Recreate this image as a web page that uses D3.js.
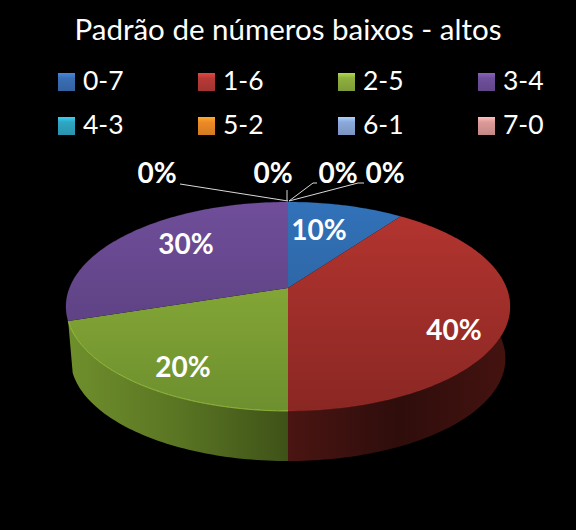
<!DOCTYPE html>
<html>
<head>
<meta charset="utf-8">
<script src="https://cdn.jsdelivr.net/npm/d3@7"></script>
<style>
html, body { margin: 0; padding: 0; background: #000; overflow: hidden; }
text { font-family: Lato, "Open Sans", sans-serif; fill: #fff; }
</style>
</head>
<body>
<div id="chart"></div>
<script>
var chartTitle = "Padrão de números baixos - altos";
var categories = ["0-7", "1-6", "2-5", "3-4", "4-3", "5-2", "6-1", "7-0"];
var percentages = [10, 40, 20, 30, 0, 0, 0, 0];
var legendColors = ["#3a6fb5", "#b83a36", "#8fb03e", "#6f4f9c", "#2fa7c4", "#ee8a26", "#8ba9db", "#dc9a98"];
var topLight = ["#3272b9", "#b53530", "#92b53c", "#704e9a", "#2fa7c4", "#ee8a26", "#8ba9db", "#dc9a98"];
var topDark = ["#27588f", "#8a2723", "#6d8f2e", "#523a75", "#2fa7c4", "#ee8a26", "#8ba9db", "#dc9a98"];
var sideStops = [
    ["#27588f", "#1c3f66", "#27588f"],
    ["#4a1512", "#2e0d0b", "#451310"],
    ["#6f8f2c", "#5a7523", "#3e5218"],
    ["#5b4080", "#4a3468", "#4a3468"],
    ["#2fa7c4", "#2fa7c4", "#2fa7c4"],
    ["#ee8a26", "#ee8a26", "#ee8a26"],
    ["#8ba9db", "#8ba9db", "#8ba9db"],
    ["#dc9a98", "#dc9a98", "#dc9a98"]
];

var width = 576, height = 530;
var cx = 288, cy = 288;
var persp = 0.177;
var topDisc = { a: 218.5, b: 101.2, cy: cy };
var baseDisc = { a: 214, b: 99.2, cy: 340.5 };

var svg = d3.select("#chart").append("svg")
    .attr("width", width)
    .attr("height", height)
    .style("display", "block");
var defs = svg.append("defs");

svg.append("rect").attr("width", width).attr("height", height).attr("fill", "#000");

// circle seen in perspective: angle 0 is the back of the pie, clockwise
function project(angle, disc) {
    var u = Math.sin(angle), v = -Math.cos(angle);
    var w = 1 - persp * v;
    return [cx + disc.a * u / w, disc.cy + disc.b * v / w];
}

function arcPoints(a0, a1, disc) {
    var n = Math.max(2, Math.ceil((a1 - a0) / 0.02));
    return d3.range(n + 1).map(function(i) {
        return project(a0 + (a1 - a0) * i / n, disc);
    });
}

var line = d3.line();
var slices = d3.pie().sort(null).value(function(d) { return d; })(percentages);
var drawn = slices.filter(function(s) { return s.value > 0; });

// only slices facing the viewer show a side wall
var facing = drawn.filter(function(s) {
    var mid = (s.startAngle + s.endAngle) / 2;
    return mid > Math.PI / 2 && mid < Math.PI * 1.5;
});

drawn.forEach(function(s) {
    var g = defs.append("linearGradient").attr("id", "top" + s.index)
        .attr("gradientUnits", "userSpaceOnUse")
        .attr("x1", 0).attr("x2", 0).attr("y1", 202).attr("y2", 411);
    g.append("stop").attr("offset", 0).attr("stop-color", topLight[s.index]);
    g.append("stop").attr("offset", 1).attr("stop-color", topDark[s.index]);

    var h = defs.append("linearGradient").attr("id", "side" + s.index)
        .attr("gradientUnits", "userSpaceOnUse")
        .attr("x1", s.index == 2 ? 68 : 288).attr("x2", s.index == 2 ? 288 : 510)
        .attr("y1", 0).attr("y2", 0);
    sideStops[s.index].forEach(function(c, i) {
        h.append("stop").attr("offset", i / 2).attr("stop-color", c);
    });
});

// sides first, the top surface paints over the hidden part
svg.append("g").selectAll("path")
    .data(facing)
    .enter()
    .append("path")
    .attr("d", function(s) {
        var front = arcPoints(s.startAngle, s.endAngle, topDisc);
        var back = arcPoints(s.startAngle, s.endAngle, baseDisc).reverse();
        return line(front.concat(back)) + "Z";
    })
    .attr("fill", function(s) { return "url(#side" + s.index + ")"; });

svg.append("g").selectAll("path")
    .data(drawn)
    .enter()
    .append("path")
    .attr("d", function(s) {
        return line([[cx, cy]].concat(arcPoints(s.startAngle, s.endAngle, topDisc))) + "Z";
    })
    .attr("fill", function(s) { return "url(#top" + s.index + ")"; });

// light bevel on the front rim
svg.append("g").selectAll("path")
    .data(drawn)
    .enter()
    .append("path")
    .attr("d", function(s) { return line(arcPoints(s.startAngle, s.endAngle, topDisc)); })
    .attr("fill", "none")
    .attr("stroke", function(s) { return d3.color(topLight[s.index]).brighter(0.7); })
    .attr("stroke-opacity", function(s) { return s.index == 2 ? 0.6 : 0.15; })
    .attr("stroke-width", 1);

// title
svg.append("text")
    .attr("x", 288)
    .attr("y", 40)
    .attr("text-anchor", "middle")
    .style("font-size", "29.5px")
    .text(chartTitle);

// legend
var legendX = d3.scalePoint().domain(d3.range(4)).range([58, 478]);
var legendY = d3.scalePoint().domain(d3.range(2)).range([73, 117]);

categories.forEach(function(name, i) {
    var id = "swatch" + i;
    var g = defs.append("linearGradient").attr("id", id)
        .attr("x1", 0).attr("x2", 0).attr("y1", 0).attr("y2", 1);
    var base = d3.color(legendColors[i]);
    g.append("stop").attr("offset", 0).attr("stop-color", base.brighter(0.6));
    g.append("stop").attr("offset", 0.28).attr("stop-color", base);
    g.append("stop").attr("offset", 1).attr("stop-color", base.darker(0.35));

    var item = svg.append("g")
        .attr("transform", "translate(" + legendX(i % 4) + "," + legendY(Math.floor(i / 4)) + ")");
    item.append("rect")
        .attr("width", 17)
        .attr("height", 18)
        .attr("fill", "url(#" + id + ")");
    item.append("text")
        .attr("x", 25)
        .attr("y", 17)
        .style("font-size", "26.5px")
        .text(name);
});

// value labels, placed by hand like the original chart
var labelPos = [[319, 240], [454, 340], [183, 377], [186, 254], [157, 183], [273, 183], [338, 183], [385, 183]];
var leaders = [
    null, null, null, null,
    [[180, 184], [288, 201]],
    [[287, 190], [287, 201]],
    [[317, 183], [313, 183], [289, 201]],
    [[364, 183], [358, 183], [289, 201]]
];

svg.append("g").selectAll("path")
    .data(leaders.filter(function(d) { return d; }))
    .enter()
    .append("path")
    .attr("d", function(d) { return line(d); })
    .attr("fill", "none")
    .attr("stroke", "#d9d9d9")
    .attr("stroke-width", 1);

svg.append("g").selectAll("text")
    .data(percentages)
    .enter()
    .append("text")
    .attr("x", function(d, i) { return labelPos[i][0]; })
    .attr("y", function(d, i) { return labelPos[i][1]; })
    .attr("text-anchor", "middle")
    .style("font-size", "28px")
    .style("font-weight", "700")
    .text(function(d) { return d + "%"; });
</script>
</body>
</html>
